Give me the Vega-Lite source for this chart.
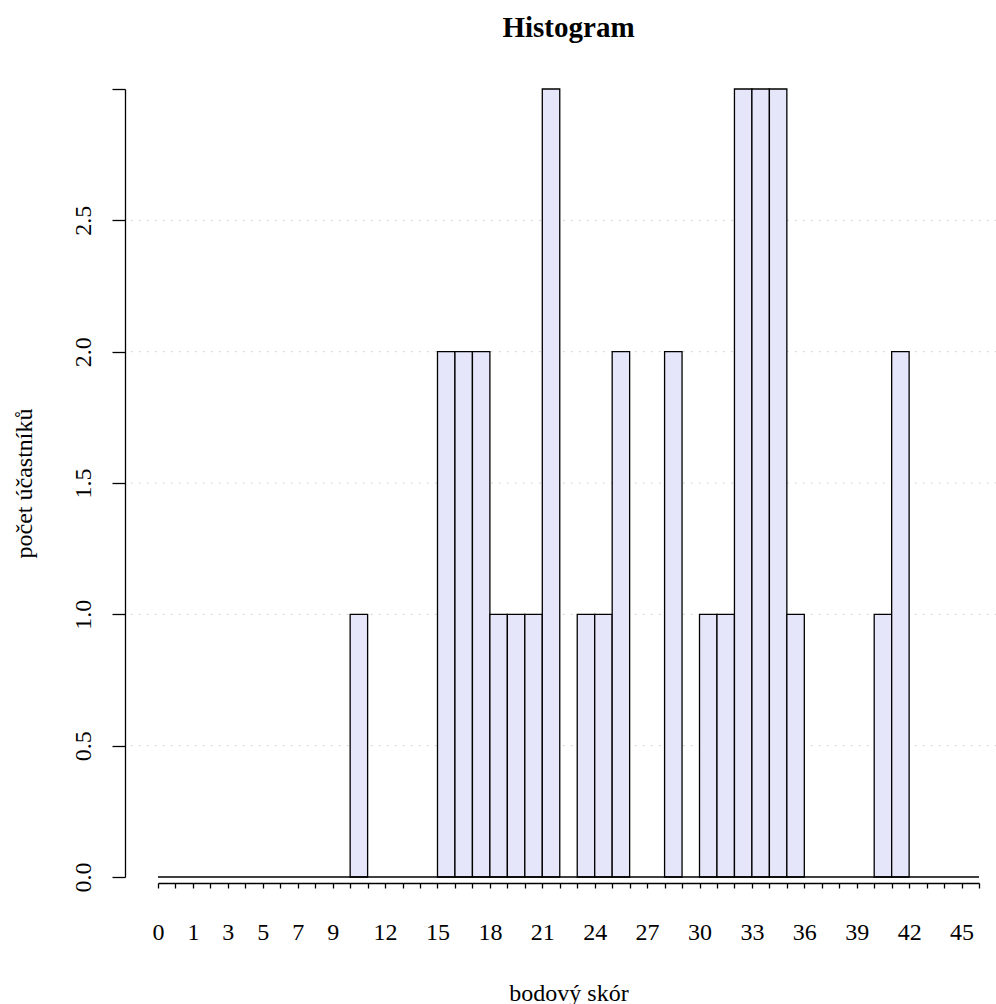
{
  "$schema": "https://vega.github.io/schema/vega-lite/v6.json",
  "width": 821,
  "height": 788,
  "autosize": {"type": "none"},
  "padding": {"left": 158, "top": 89, "right": 17, "bottom": 127},
  "background": "white",
  "title": {
    "text": "Histogram",
    "font": "Liberation Serif",
    "fontSize": 29,
    "fontWeight": "bold",
    "color": "black",
    "anchor": "middle",
    "frame": "group",
    "baseline": "alphabetic",
    "offset": 22
  },
  "config": {
    "view": {"stroke": null},
    "axis": {
      "labelFont": "Liberation Serif",
      "titleFont": "Liberation Serif",
      "labelFontSize": 24,
      "titleFontSize": 24,
      "labelColor": "black",
      "titleColor": "black",
      "titleFontWeight": "normal",
      "domainColor": "black",
      "tickColor": "black",
      "domainWidth": 1.3,
      "tickWidth": 1.3,
      "grid": false
    }
  },
  "layer": [
    {
      "data": {"values": [{"level": 0.5}, {"level": 1.0}, {"level": 1.5}, {"level": 2.0}, {"level": 2.5}]},
      "mark": {"type": "rule", "color": "#D3D3D3", "strokeDash": [2, 6], "strokeWidth": 1},
      "encoding": {
        "y": {"field": "level", "type": "quantitative", "title": "počet účastníků"},
        "x": {"datum": -2.56, "type": "quantitative", "title": "bodový skór"},
        "x2": {"datum": 47.5}
      }
    },
    {
      "data": {"values": [
        {"bin_start": 10, "bin_end": 11, "count": 1},
        {"bin_start": 15, "bin_end": 16, "count": 2},
        {"bin_start": 16, "bin_end": 17, "count": 2},
        {"bin_start": 17, "bin_end": 18, "count": 2},
        {"bin_start": 18, "bin_end": 19, "count": 1},
        {"bin_start": 19, "bin_end": 20, "count": 1},
        {"bin_start": 20, "bin_end": 21, "count": 1},
        {"bin_start": 21, "bin_end": 22, "count": 3},
        {"bin_start": 23, "bin_end": 24, "count": 1},
        {"bin_start": 24, "bin_end": 25, "count": 1},
        {"bin_start": 25, "bin_end": 26, "count": 2},
        {"bin_start": 28, "bin_end": 29, "count": 2},
        {"bin_start": 30, "bin_end": 31, "count": 1},
        {"bin_start": 31, "bin_end": 32, "count": 1},
        {"bin_start": 32, "bin_end": 33, "count": 3},
        {"bin_start": 33, "bin_end": 34, "count": 3},
        {"bin_start": 34, "bin_end": 35, "count": 3},
        {"bin_start": 35, "bin_end": 36, "count": 1},
        {"bin_start": 40, "bin_end": 41, "count": 1},
        {"bin_start": 41, "bin_end": 42, "count": 2}
      ]},
      "mark": {"type": "rect", "fill": "#E6E6FA", "stroke": "black", "strokeWidth": 1.3},
      "encoding": {
        "x": {
          "field": "bin_start",
          "type": "quantitative",
          "scale": {"domain": [-1, 46], "nice": false, "zero": false},
          "axis": {
            "title": "bodový skór",
            "offset": 6,
            "values": [-1, 0, 1, 2, 3, 4, 5, 6, 7, 8, 9, 10, 11, 12, 13, 14, 15, 16, 17, 18, 19, 20, 21, 22, 23, 24, 25, 26, 27, 28, 29, 30, 31, 32, 33, 34, 35, 36, 37, 38, 39, 40, 41, 42, 43, 44, 45, 46],
            "tickCount": 100,
            "labelExpr": "datum.value == -1 ? '0' : (indexof([1, 3, 5, 7, 9, 12, 15, 18, 21, 24, 27, 30, 33, 36, 39, 42, 45], datum.value) >= 0 ? format(datum.value, 'd') : '')",
            "labelOverlap": false,
            "labelFlush": false,
            "labelBound": false,
            "labelAngle": 0,
            "labelAlign": "center",
            "labelBaseline": "alphabetic",
            "tickSize": 5,
            "labelPadding": 51,
            "titleX": 410.5,
            "titleY": 117,
            "titleAlign": "center",
            "titleBaseline": "alphabetic"
          }
        },
        "x2": {"field": "bin_end"},
        "y": {
          "field": "count",
          "type": "quantitative",
          "scale": {"domain": [0, 3], "nice": false, "zero": true},
          "axis": {
            "title": "počet účastníků",
            "offset": 33,
            "values": [0, 0.5, 1, 1.5, 2, 2.5, 3],
            "tickCount": 20,
            "labelExpr": "datum.value == 3 ? '' : format(datum.value, '.1f')",
            "labelOverlap": false,
            "labelFlush": false,
            "labelBound": false,
            "labelAngle": 270,
            "labelAlign": "center",
            "labelBaseline": "alphabetic",
            "tickSize": 13,
            "labelPadding": 22,
            "titleAngle": 270,
            "titleX": -94,
            "titleY": 394,
            "titleAlign": "center",
            "titleBaseline": "alphabetic"
          }
        },
        "y2": {"datum": 0}
      }
    },
    {
      "data": {"values": [{"baseline": 0}]},
      "mark": {"type": "rule", "color": "black", "strokeWidth": 1.3},
      "encoding": {
        "y": {"field": "baseline", "type": "quantitative", "title": "počet účastníků"},
        "x": {"datum": -1, "type": "quantitative", "title": "bodový skór"},
        "x2": {"datum": 46}
      }
    }
  ]
}
